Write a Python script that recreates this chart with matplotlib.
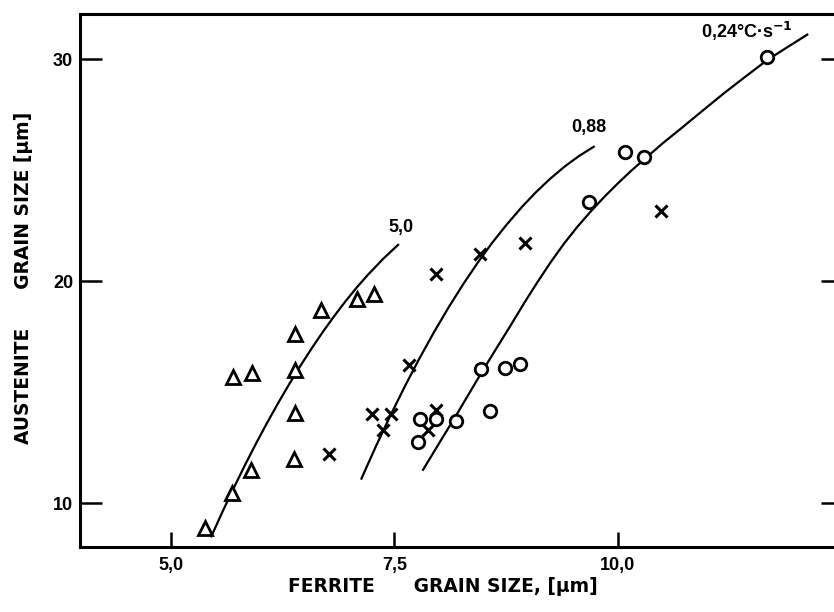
import numpy as np
import matplotlib.pyplot as plt

# measured points, ferrite size (x) vs austenite size (y)
tri_x = [5.38, 5.68, 5.89, 6.38, 6.39, 6.39, 5.69, 5.90, 6.39, 6.68, 7.08, 7.27]
tri_y = [8.87, 10.45, 11.5, 12.0, 14.05, 16.0, 15.7, 15.85, 17.6, 18.7, 19.2, 19.4]

cross_x = [6.77, 7.25, 7.46, 7.37, 7.66, 7.96, 8.46, 8.96, 7.97, 7.87, 10.48]
cross_y = [12.2, 14.0, 14.0, 13.3, 16.2, 20.3, 21.2, 21.7, 14.2, 13.3, 23.15]

circ_x = [7.76, 7.78, 7.96, 8.19, 8.47, 8.57, 8.74, 8.90, 9.68, 10.08, 10.29, 11.67]
circ_y = [12.75, 13.8, 13.8, 13.7, 16.05, 14.15, 16.1, 16.25, 23.55, 25.8, 25.6, 30.1]

# trend curves, points
c50_x = [5.45, 5.575, 5.7, 5.825, 5.95, 6.075, 6.2, 6.325, 6.45, 6.575,
         6.7, 6.825, 6.95, 7.075, 7.2, 7.37, 7.54]
c50_y = [8.5, 9.61, 10.67, 11.7, 12.68, 13.62, 14.52, 15.38, 16.2, 16.98,
         17.72, 18.42, 19.08, 19.7, 20.27, 20.99, 21.63]

c088_x = [7.13, 7.2925, 7.455, 7.6175, 7.78, 7.9425, 8.105, 8.2675, 8.43,
          8.5925, 8.755, 8.9175, 9.08, 9.2425, 9.405, 9.5675, 9.73]
c088_y = [11.1, 12.56, 13.95, 15.27, 16.52, 17.7, 18.81, 19.85, 20.82,
          21.72, 22.54, 23.3, 23.99, 24.61, 25.16, 25.64, 26.05]

c024_x = [7.82, 8.005, 8.19, 8.33, 8.47, 8.635, 8.8, 8.95, 9.1, 9.25, 9.4,
          9.55, 9.7, 9.85, 10.0, 10.15, 10.3, 10.5, 10.7, 10.95, 11.2,
          11.435, 11.67, 11.895, 12.12]
c024_y = [11.5, 12.73, 13.95, 14.9, 15.85, 16.93, 18.0, 19.0, 19.95, 20.86,
          21.7, 22.46, 23.15, 23.8, 24.4, 24.97, 25.5, 26.2, 26.85, 27.68,
          28.5, 29.23, 29.95, 30.53, 31.1]

xticks = [5.0, 7.5, 10.0]
xtick_labels = ['5,0', '7,5', '10,0']
yticks = [10, 20, 30]

plt.rcParams['font.family'] = ['Liberation Sans', 'DejaVu Sans']
plt.rcParams['font.weight'] = 'bold'

fig = plt.figure(figsize=(8.34, 6.12), dpi=100)
ax = fig.add_axes([80/834, 65/612, 763/834, 533/612])

for cx, cy in [(c50_x, c50_y), (c088_x, c088_y), (c024_x, c024_y)]:
    ax.plot(cx, cy, color='black', lw=1.6, solid_joinstyle='round')

ax.plot(tri_x, tri_y, '^', ms=10, mfc='white', mec='black', mew=2, ls='none')
ax.plot(cross_x, cross_y, 'x', ms=8, mec='black', mew=2.2, ls='none')
ax.plot(circ_x, circ_y, 'o', ms=9, mfc='white', mec='black', mew=2, ls='none')

ax.text(7.57, 22.4, '5,0', fontsize=13, ha='center', va='center')
ax.text(9.67, 26.9, '0,88', fontsize=13, ha='center', va='center')
ax.text(11.45, 31.25, '0,24°C·s$^{\\mathbf{-1}}$', fontsize=13,
        ha='center', va='center')

ax.set_xlim(3.98, 12.52)
ax.set_ylim(8.02, 32.03)
ax.set_xticks(xticks)
ax.set_xticklabels(xtick_labels)
ax.set_yticks(yticks)
ax.tick_params(axis='x', direction='in', length=11, width=1.8, labelsize=13, pad=7)
ax.tick_params(axis='y', direction='in', length=16, width=1.8, labelsize=13, pad=5,
               right=True)
for s in ax.spines.values():
    s.set_linewidth(2.2)

lab_font = dict(fontsize=13.4, fontweight='bold', family='DejaVu Sans')
ax.set_xlabel('FERRITE      GRAIN SIZE, [μm]', **lab_font)
ax.set_ylabel('AUSTENITE      GRAIN SIZE [μm]', **lab_font)
ax.xaxis.set_label_coords(0.476, -0.056)
ax.yaxis.set_label_coords(-0.062, 0.505)

fig.savefig('out.png', dpi=100)
